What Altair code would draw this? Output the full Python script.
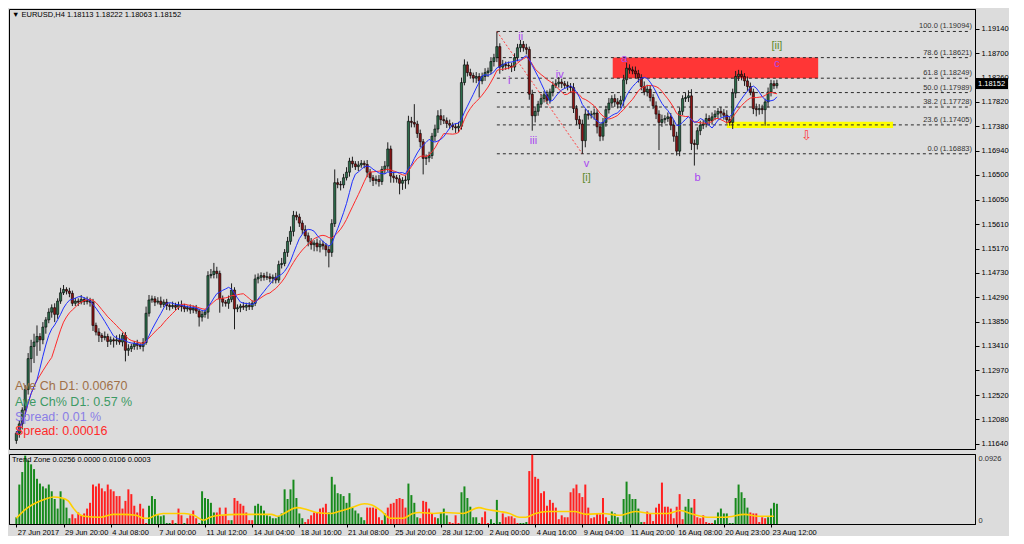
import altair as alt
import pandas as pd

# ---------------- data ----------------
first_open = 1.1170
close = [
    1.1183, 1.1200, 1.1225, 1.1262, 1.1318, 1.1340, 1.1348, 1.1358, 1.1352, 1.1375,
    1.1388, 1.1402, 1.1410, 1.1398, 1.1422, 1.1437, 1.1443, 1.1440, 1.1436, 1.1418,
    1.1422, 1.1420, 1.1425, 1.1421, 1.1423, 1.1420, 1.1378, 1.1366, 1.1360, 1.1356,
    1.1358, 1.1349, 1.1352, 1.1350, 1.1352, 1.1348, 1.1360, 1.1333, 1.1336, 1.1340,
    1.1345, 1.1342, 1.1340, 1.1347, 1.1400, 1.1424, 1.1426, 1.1420, 1.1422, 1.1416,
    1.1420, 1.1414, 1.1412, 1.1414, 1.1411, 1.1415, 1.1412, 1.1408, 1.1410, 1.1406,
    1.1409, 1.1404, 1.1393, 1.1398, 1.1402, 1.1468, 1.1470, 1.1476, 1.1472, 1.1426,
    1.1420, 1.1418, 1.1425, 1.1442, 1.1408, 1.1410, 1.1413, 1.1411, 1.1414, 1.1412,
    1.1418, 1.1462, 1.1465, 1.1468, 1.1465, 1.1466, 1.1463, 1.1465, 1.1460, 1.1488,
    1.1490, 1.1510, 1.1530, 1.1548, 1.1577, 1.1574, 1.1563, 1.1551, 1.1540, 1.1530,
    1.1524, 1.1527, 1.1520, 1.1525, 1.1522, 1.1515, 1.1510, 1.1562, 1.1636, 1.1633,
    1.1632, 1.1645, 1.1655, 1.1675, 1.1670, 1.1665, 1.1668, 1.1671, 1.1669, 1.1655,
    1.1645, 1.1640, 1.1642, 1.1638, 1.1660, 1.1666, 1.1697, 1.1648, 1.1645, 1.1643,
    1.1635, 1.1640, 1.1641, 1.1747, 1.1745, 1.1742, 1.1725, 1.1710, 1.1680, 1.1681,
    1.1685, 1.1720, 1.1733, 1.1757, 1.1750, 1.1748, 1.1743, 1.1740, 1.1737, 1.1735,
    1.1738, 1.1817, 1.1849, 1.1835, 1.1830, 1.1825, 1.1828, 1.1820, 1.1828, 1.1835,
    1.1838, 1.1855, 1.1862, 1.1882, 1.1845, 1.1850, 1.1848, 1.1847, 1.1845, 1.1862,
    1.1880, 1.1886, 1.1880, 1.1877, 1.1796, 1.1757, 1.1765, 1.1778, 1.1788, 1.1795,
    1.1785, 1.1800, 1.1812, 1.1815, 1.1818, 1.1815, 1.1812, 1.1810, 1.1808, 1.1770,
    1.1750, 1.1742, 1.1712, 1.1760, 1.1758, 1.1760, 1.1762, 1.1737, 1.1720, 1.1745,
    1.1768, 1.1780, 1.1788, 1.1782, 1.1778, 1.1785, 1.1822, 1.1843, 1.1840, 1.1838,
    1.1833, 1.1826, 1.1810, 1.1800, 1.1805, 1.1790, 1.1775, 1.1760, 1.1745, 1.1750,
    1.1752, 1.1755, 1.1740, 1.1720, 1.1693, 1.1765, 1.1788, 1.1790, 1.1793, 1.1707,
    1.1705, 1.1730, 1.1740, 1.1742, 1.1752, 1.1748, 1.1755, 1.1760, 1.1765, 1.1762,
    1.1758, 1.1750, 1.1745, 1.1798, 1.1828, 1.1832, 1.1828, 1.1820, 1.1810, 1.1800,
    1.1770, 1.1768, 1.1770, 1.1768, 1.1782, 1.1800, 1.1815, 1.18113, 1.18152,
]
up_wick_pips = [
    4, 6, 5, 8, 10, 12, 15, 20, 6, 9, 5, 7, 6, 8, 5, 9, 8, 4, 6, 5,
    6, 5, 8, 4, 7, 5, 6, 5, 7, 4, 9, 5, 6, 4, 8, 10, 5, 6, 8, 5,
    5, 7, 4, 8, 12, 9, 6, 5, 7, 8, 5, 6, 4, 7, 5, 6, 8, 5, 4, 6,
    5, 6, 4, 7, 5, 8, 10, 15, 8, 5, 6, 4, 7, 12, 5, 6, 4, 7, 5, 6,
    5, 8, 7, 6, 5, 9, 6, 5, 8, 7, 10, 6, 8, 9, 8, 7, 6, 5, 8, 6,
    6, 5, 8, 7, 6, 5, 7, 8, 24, 8, 6, 7, 9, 6, 8, 5, 7, 6, 5, 8,
    6, 5, 7, 8, 6, 9, 12, 6, 8, 5, 7, 6, 8, 10, 8, 33, 6, 7, 5, 6,
    7, 6, 8, 10, 12, 8, 6, 7, 5, 6, 8, 9, 10, 6, 7, 5, 8, 6, 7, 8,
    6, 8, 7, 27, 6, 8, 5, 7, 6, 8, 7, 8, 6, 7, 5, 8, 7, 6, 8, 7,
    8, 6, 7, 8, 9, 6, 5, 7, 6, 8, 6, 7, 8, 9, 7, 6, 8, 7, 6, 8,
    7, 9, 6, 8, 7, 8, 9, 10, 7, 6, 8, 7, 6, 9, 8, 7, 6, 8, 7, 9,
    6, 8, 7, 9, 8, 7, 6, 8, 10, 12, 7, 6, 8, 7, 9, 6, 8, 7, 6, 8,
    7, 9, 6, 8, 10, 8, 7, 6, 8, 7, 6, 9, 8, 7, 6, 8, 7, 6, 7,
]
down_wick_pips = [
    6, 8, 10, 12, 9, 25, 30, 25, 20, 8, 12, 6, 10, 14, 8, 5, 4, 6, 7, 5,
    5, 7, 4, 6, 5, 8, 10, 6, 12, 8, 5, 10, 6, 12, 7, 5, 8, 20, 10, 6,
    6, 8, 5, 9, 4, 6, 5, 7, 4, 6, 5, 8, 7, 4, 6, 5, 9, 6, 5, 7,
    6, 5, 17, 8, 6, 12, 5, 7, 9, 25, 8, 6, 10, 5, 37, 6, 8, 5, 7, 6,
    6, 5, 8, 7, 6, 5, 7, 9, 6, 5, 7, 5, 8, 6, 9, 6, 7, 8, 6, 9,
    9, 12, 8, 10, 7, 12, 27, 8, 6, 7, 10, 6, 5, 8, 7, 6, 8, 5, 7, 9,
    8, 10, 7, 9, 6, 8, 10, 12, 9, 7, 20, 12, 15, 8, 9, 6, 8, 10, 29, 12,
    8, 6, 9, 7, 10, 6, 8, 7, 6, 9, 8, 6, 5, 7, 6, 8, 9, 30, 6, 8,
    8, 6, 9, 8, 12, 7, 8, 6, 9, 7, 6, 8, 7, 9, 10, 27, 12, 8, 6, 7,
    7, 6, 8, 5, 7, 8, 6, 7, 9, 8, 10, 9, 24, 12, 8, 6, 10, 12, 9, 8,
    8, 7, 6, 9, 8, 7, 10, 8, 7, 6, 8, 9, 7, 6, 8, 7, 6, 9, 50, 8,
    7, 6, 9, 10, 8, 9, 7, 6, 8, 12, 38, 9, 8, 7, 6, 8, 7, 6, 9, 8,
    8, 7, 6, 12, 9, 8, 7, 9, 8, 6, 10, 12, 9, 8, 29, 10, 8, 6, 5,
]

x_tick_bars = [0, 16, 32, 48, 64, 80, 96, 112, 128, 144, 160, 176, 192, 208, 224, 240, 256]
x_tick_labels = ["27 Jun 2017", "29 Jun 20:00", "4 Jul 08:00", "7 Jul 00:00", "11 Jul 12:00",
                 "14 Jul 04:00", "18 Jul 16:00", "21 Jul 08:00", "25 Jul 20:00", "28 Jul 12:00",
                 "2 Aug 00:00", "4 Aug 16:00", "9 Aug 04:00", "11 Aug 20:00", "16 Aug 08:00",
                 "20 Aug 23:00", "23 Aug 12:00"]
price_ticks = [1.19140, 1.18700, 1.18260, 1.17820, 1.17380, 1.16940, 1.16500, 1.16050, 1.15610,
               1.15170, 1.14730, 1.14290, 1.13850, 1.13410, 1.12970, 1.12520, 1.12080, 1.11640]

fib_levels = ["100.0", "78.6", "61.8", "50.0", "38.2", "23.6", "0.0"]
fib_prices = [1.19094, 1.18621, 1.18249, 1.17989, 1.17728, 1.17405, 1.16883]
fib_start_bar = 163
fib_end_bar = 192

red_zone = {"b0": 202.3, "b1": 272.0, "p0": 1.18249, "p1": 1.18621}
yellow_zone = {"b0": 241.0, "b1": 297.4, "p0": 1.17350, "p1": 1.17460}

wave_text = ["i", "ii", "iii", "iv", "v", "[i]", "a", "b", "c", "[ii]"]
wave_bar = [167.2, 171.1, 175.4, 184.3, 193.4, 193.4, 206.2, 231.1, 258.0, 258.0]
wave_price = [1.1819, 1.1900, 1.1711, 1.1831, 1.1670, 1.1645, 1.1860, 1.1644, 1.1851, 1.1883]
wave_degree = ["minor", "minor", "minor", "minor", "minor", "major", "minor", "minor", "minor", "major"]
arrow_bar, arrow_price = 268.0, 1.1721

info_lines = ["Ave Ch D1: 0.00670", "Ave Ch% D1: 0.57 %", "Spread: 0.01 %", "Spread: 0.00016"]

# Trend Zone histogram (units of 0.0001) and colour runs
tz_values = [
    90, 527, 694, 913, 849, 797, 733, 604, 540, 502, 476, 527, 437, 334, 206, 437, 347, 219, 77,
    129, 77, 154, 116, 141, 206, 283, 527, 502, 540, 476, 437, 527, 463, 437, 373, 373, 206, 309, 463,
    399, 244, 154, 270, 206, 13,
    244, 373, 334, 116, 103, 116, 13,
    13, 51, 13, 206, 116, 13, 77, 116, 180, 77, 13,
    437, 347, 334, 283, 154,
    154, 219, 116, 219, 51,
    51,
    347, 309, 270, 244, 154, 51, 51,
    244, 270, 244, 180, 116, 103, 77, 77, 103, 141, 463, 334, 463, 592, 347, 141, 77,
    26, 64, 116, 154, 154, 206, 219, 270,
    154,
    630, 527, 412, 399, 373, 283, 412, 219, 180, 141, 90, 51,
    219, 219, 219, 206, 90, 51,
    141,
    219, 270, 283, 334, 347, 334, 219,
    540, 386, 283, 90,
    77, 309, 296, 206, 141, 90,
    77, 154, 206, 116,
    26, 13, 116, 13,
    424, 502, 347, 231, 90, 90, 13,
    90, 167, 13,
    64, 13, 322, 26,
    141, 90, 103, 103, 77, 13,
    13, 13, 26,
    707, 926, 630, 604, 412, 437, 244, 322, 283, 219, 64, 116, 90, 90, 424, 476, 527, 412, 360, 527,
    219, 77, 90, 141, 129, 347, 90,
    39, 167, 141, 90, 26, 334, 566, 399, 334, 334, 206, 26,
    26, 167, 141, 39, 219, 270, 553, 231, 231, 206, 77, 231, 399, 64,
    231, 334, 219,
    334, 90, 77, 116, 26, 13, 13,
    51, 154, 206, 141, 141, 13, 13, 347, 527, 424, 347, 219,
    154, 141, 141, 26, 90, 77,
    90, 206, 283, 270,
]
tz_runs = [("g", 19), ("r", 26), ("g", 8), ("r", 1), ("g", 1), ("r", 2), ("g", 1), ("r", 4),
           ("g", 6), ("r", 5), ("g", 1), ("r", 7), ("g", 17), ("r", 8), ("g", 13), ("r", 6),
           ("g", 1), ("r", 7),
           ("g", 4), ("r", 6), ("g", 4), ("r", 4), ("g", 7), ("r", 3), ("g", 4), ("r", 6),
           ("g", 3), ("r", 27), ("g", 12), ("r", 14), ("g", 3), ("r", 7), ("g", 12), ("r", 6),
           ("g", 4)]
yellow_bars = [0, 3.4, 6.7, 9.9, 12.7, 15.4, 17.6, 19.2, 20.9, 23, 28.5, 32.9, 36.2, 40.6, 43.3,
               44.9, 47.1, 49.8, 57, 60.2, 63.5, 65.7, 69, 75.5, 86.5, 88.6, 90.8, 95.2, 98.5, 101.7,
               106.7, 109.4, 113.8, 118.1, 120.3, 123.6, 126.9, 131.2, 134.5, 136.7, 141.6, 145.5,
               151.5, 156.9, 159.7, 164, 167.3, 170.6, 172.8, 176.1, 180.4, 189.2, 193.5, 199,
               204.5, 210, 215.4, 220.9, 225.2, 229.6, 235.1, 240.5, 247.1, 251.5, 256.9]
yellow_vals = [77, 206, 283, 334, 360, 347, 309, 219, 141, 103, 90, 129, 129, 116, 77,
               77, 116, 141, 141, 116, 51, 90, 116, 129, 129, 103, 141, 219, 193, 154,
               141, 167, 219, 270, 257, 180, 77, 77, 141, 154, 141, 154,
               141, 219, 193, 167, 141, 90, 90, 141, 167, 167, 129, 141,
               116, 167, 141, 141, 180, 129, 90, 90, 129, 103, 103]

# ---------------- styles ----------------
UP_FILL, DOWN_FILL = "#2d6e4c", "#8c1414"
HIST_GREEN, HIST_RED = "#178a1c", "#ff2020"
ZONE_COLORS = {"red": "#ff3636", "yellow": "#ffff00"}
WAVE_COLORS = {"minor": "#a846f0", "major": "#5e8a2c"}

# ---------------- tables ----------------
n = min(len(close), len(up_wick_pips), len(down_wick_pips))
opens = [first_open] + close[:-1]
rows = []
for i in range(n):
    o, c = opens[i], close[i]
    rows.append({"bar": i, "open": o, "close": c,
                 "high": max(o, c) + up_wick_pips[i] / 1e4,
                 "low": min(o, c) - down_wick_pips[i] / 1e4,
                 "fill": UP_FILL if c >= o else DOWN_FILL})
candles = pd.DataFrame(rows)

tz_dir = []
for col, cnt in tz_runs:
    tz_dir += [col] * cnt
m = min(len(tz_values), len(tz_dir))
tz = pd.DataFrame({"bar": list(range(m)), "val": [v / 1e4 for v in tz_values[:m]],
                   "fill": [HIST_GREEN if d == "g" else HIST_RED for d in tz_dir[:m]]})
yl = pd.DataFrame({"bar": yellow_bars, "val": [v / 1e4 for v in yellow_vals]})

W, H1, H2 = 966, 440, 70
x_min, x_max = -0.8, 323.5
y_min, y_max = 1.11546, 1.19500
FONT = "Liberation Sans"

fib = pd.DataFrame({"price": fib_prices,
                    "label": [f"{l}  ({p:.5f})" for l, p in zip(fib_levels, fib_prices)],
                    "b0": fib_start_bar, "b1": x_max})
zones = pd.DataFrame([dict(red_zone, fill=ZONE_COLORS["red"]), dict(yellow_zone, fill=ZONE_COLORS["yellow"])])
diag = pd.DataFrame({"b0": [fib_start_bar], "b1": [fib_end_bar], "p0": [fib_prices[0]], "p1": [fib_prices[-1]]})
waves = pd.DataFrame({"bar": wave_bar, "price": wave_price, "t": wave_text,
                      "fill": [WAVE_COLORS[d] for d in wave_degree]})
last = candles.iloc[-1]
half = 5.5 * (y_max - y_min) / H1
tag = pd.DataFrame({"price": [last["close"]], "pt": [last["close"] + half], "pb": [last["close"] - half],
                    "t": [f"{last['close']:.5f}"]})
one = pd.DataFrame({"k": [0]})

xs = alt.Scale(domain=[x_min, x_max], nice=False, zero=False)
ys = alt.Scale(domain=[y_min, y_max], nice=False, zero=False)
yaxis = alt.Axis(orient="right", values=price_ticks, format=".5f", labelFont=FONT, labelFontSize=7.5,
                 labelColor="#000", tickColor="#000", tickSize=4, labelPadding=2, domainColor="#000",
                 title=None, grid=False, labelOverlap=False)


def X(f):
    return alt.X(f, type="quantitative", scale=xs, axis=None)


def Y(f):
    return alt.Y(f, type="quantitative", scale=ys, axis=yaxis)


FILL = alt.Color("fill:N", scale=None)

zone_layer = alt.Chart(zones).mark_rect().encode(x=X("b0"), x2="b1", y=Y("p0"), y2="p1", color=FILL)
fib_rules = alt.Chart(fib).mark_rule(strokeDash=[3, 3], color="#2a2a2a", strokeWidth=1).encode(
    x=X("b0"), x2="b1", y=Y("price"))
fib_text = alt.Chart(fib).mark_text(align="right", baseline="bottom", dy=-1, font=FONT, fontSize=7.5,
                                    color="#333").encode(x=alt.value(W - 3), y=Y("price"), text="label")
diag_layer = alt.Chart(diag).mark_rule(strokeDash=[2, 2], color="#ff4040", strokeWidth=1).encode(
    x=X("b0"), x2="b1", y=Y("p0"), y2="p1")
wicks = alt.Chart(candles).mark_rule(color="#1e1e1e", strokeWidth=1).encode(x=X("bar"), y=Y("low"), y2="high")
bodies = alt.Chart(candles).mark_bar(width=2.2, stroke="#000", strokeWidth=0.6).encode(
    x=X("bar"), y=Y("open"), y2="close", color=FILL)
ma_red = alt.Chart(candles).transform_window(ma="mean(close)", frame=[-12, 0], sort=[alt.SortField("bar")]).mark_line(
    color="#ff2a2a", strokeWidth=1).encode(x=X("bar"), y=Y("ma"))
ma_blue = alt.Chart(candles).transform_window(ma="mean(close)", frame=[-7, 0], sort=[alt.SortField("bar")]).mark_line(
    color="#2030ff", strokeWidth=1).encode(x=X("bar"), y=Y("ma"))
wave_layer = alt.Chart(waves).mark_text(font=FONT, fontSize=11).encode(
    x=X("bar"), y=Y("price"), text="t", color=FILL)
arrow = alt.Chart(one).mark_text(text="⇩", fontSize=13, color="#ff3a3a", font="DejaVu Sans").encode(
    x=alt.X(datum=arrow_bar, type="quantitative", scale=xs, axis=None),
    y=alt.Y(datum=arrow_price, type="quantitative", scale=ys, axis=yaxis))

info_colors = ["#a07048", "#3c9a64", "#8a7ee6", "#ff2a2a"]
info_y = [377, 393, 408, 422]
info_layers = [alt.Chart(one).mark_text(text=t, align="left", baseline="middle", font=FONT, fontSize=12.5,
                                        color=c).encode(x=alt.value(6), y=alt.value(yy))
               for t, c, yy in zip(info_lines, info_colors, info_y)]
title_txt = "▼ EURUSD,H4  {:.5f} {:.5f} {:.5f} {:.5f}".format(1.18113, last["high"], last["low"], last["close"])
title_layer = alt.Chart(one).mark_text(text=title_txt, align="left", baseline="middle", font=FONT, fontSize=7.5,
                                       color="#000").encode(x=alt.value(3), y=alt.value(6))
tag_rect = alt.Chart(tag).mark_rect(color="#000").encode(x=alt.value(W + 1), x2=alt.value(W + 33), y=Y("pt"), y2="pb")
tag_text = alt.Chart(tag).mark_text(align="left", baseline="middle", font=FONT, fontSize=7.5, color="#fff").encode(
    x=alt.value(W + 3), y=Y("price"), text="t")

main = alt.layer(zone_layer, fib_rules, diag_layer, wicks, bodies, ma_red, ma_blue, fib_text, wave_layer, arrow,
                 *info_layers, title_layer, tag_rect, tag_text).properties(width=W, height=H1)

# ---------------- indicator panel ----------------
xs2 = alt.Scale(domain=[x_min, x_max], nice=False, zero=False)
ys2 = alt.Scale(domain=[0, 0.0935], nice=False)
label_arr = "[" + ",".join("'" + s + "'" for s in x_tick_labels) + "]"
xaxis2 = alt.Axis(values=x_tick_bars, labelExpr=label_arr + "[round(datum.value/16)]", labelAlign="left",
                  labelOffset=1, labelFont=FONT, labelFontSize=7.5, labelColor="#000", tickColor="#000",
                  tickSize=3, labelPadding=1, domainColor="#000", title=None, grid=False, labelOverlap=False)
yaxis2 = alt.Axis(orient="right", values=[0, 0.0926], labelExpr="datum.value == 0 ? '0' : format(datum.value, '.4f')",
                  labelFont=FONT, labelFontSize=7.5, labelColor="#333", tickSize=0, labelPadding=3,
                  domainColor="#000", title=None, grid=False, labelFlush=True)
ind_bars = alt.Chart(tz).mark_bar(width=2).encode(
    x=alt.X("bar:Q", scale=xs2, axis=xaxis2), y=alt.Y("val:Q", scale=ys2, axis=yaxis2), color=FILL)
ind_line = alt.Chart(yl).mark_line(color="#ffd000", strokeWidth=1.6, interpolate="monotone").encode(
    x=alt.X("bar:Q", scale=xs2, axis=xaxis2), y=alt.Y("val:Q", scale=ys2, axis=yaxis2))
ind_label = alt.Chart(one).mark_text(text="Trend Zone 0.0256 0.0000 0.0106 0.0003", align="left", baseline="middle",
                                     font=FONT, fontSize=7.5, color="#000").encode(x=alt.value(3), y=alt.value(6))
ind = alt.layer(ind_bars, ind_line, ind_label).properties(width=W, height=H2)

chart = alt.vconcat(main, ind, spacing=3).properties(padding=0).configure(background="#dcdcdc").configure_view(
    stroke="#000", strokeWidth=1).configure_axis(grid=False)

chart.save("out.html", embed_options={"renderer": "svg", "actions": False})
